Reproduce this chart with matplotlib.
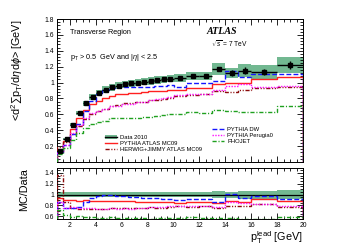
import numpy as np
import matplotlib
matplotlib.use("Agg")
import matplotlib.pyplot as plt
from matplotlib.ticker import MultipleLocator, FuncFormatter
from matplotlib.patches import Patch
from matplotlib.lines import Line2D

plt.rcParams['font.family'] = ['Liberation Sans', 'DejaVu Sans']
plt.rcParams['mathtext.fontset'] = 'custom'
plt.rcParams['mathtext.rm'] = 'Liberation Sans'
plt.rcParams['mathtext.it'] = 'Liberation Sans:italic'
plt.rcParams['mathtext.bf'] = 'Liberation Sans:bold'

# bin edges in leading-track pT [GeV]
edges = np.array([1.0, 1.5, 2.0, 2.5, 3.0, 3.5, 4.0, 4.5, 5.0, 5.5, 6.0, 6.5, 7.0,
                  7.5, 8.0, 8.5, 9.0, 9.5, 10.0, 11.0, 12.0, 13.0, 14.0, 15.0,
                  16.0, 18.0, 20.0])

data = np.array([0.14, 0.29, 0.47, 0.62, 0.74, 0.82, 0.87, 0.91, 0.94, 0.96, 0.98,
                 0.99, 1.00, 1.01, 1.02, 1.03, 1.04, 1.05, 1.06, 1.08, 1.08, 1.17,
                 1.12, 1.15, 1.13, 1.22])
data_stat = np.array([0.004, 0.004, 0.004, 0.004, 0.004, 0.004, 0.005, 0.005, 0.005,
                      0.006, 0.006, 0.007, 0.008, 0.008, 0.009, 0.010, 0.011, 0.012,
                      0.012, 0.015, 0.020, 0.030, 0.035, 0.040, 0.035, 0.050])
data_relsyst = np.array([0.045, 0.045, 0.045, 0.045, 0.045, 0.045, 0.045, 0.045, 0.045,
                         0.045, 0.045, 0.045, 0.045, 0.045, 0.045, 0.045, 0.045, 0.045,
                         0.045, 0.045, 0.045, 0.060, 0.055, 0.075, 0.075, 0.085])

mc09 = np.array([0.13, 0.26, 0.42, 0.55, 0.66, 0.73, 0.77, 0.80, 0.83, 0.85, 0.86,
                 0.87, 0.87, 0.88, 0.89, 0.89, 0.89, 0.90, 0.90, 0.93, 0.93, 0.98,
                 0.99, 0.99, 1.04, 1.07])
herwig = np.array([0.19, 0.25, 0.35, 0.45, 0.54, 0.60, 0.64, 0.67, 0.70, 0.72, 0.74,
                   0.74, 0.75, 0.76, 0.78, 0.78, 0.79, 0.81, 0.83, 0.84, 0.85, 0.89,
                   0.88, 0.90, 0.93, 0.94])
dw = np.array([0.12, 0.22, 0.35, 0.48, 0.64, 0.77, 0.85, 0.90, 0.93, 0.94, 0.95,
               0.95, 0.95, 0.95, 0.95, 0.96, 0.96, 0.97, 0.95, 1.00, 1.00, 1.02,
               1.14, 1.07, 1.11, 1.11])
perugia = np.array([0.12, 0.22, 0.36, 0.47, 0.56, 0.62, 0.64, 0.67, 0.70, 0.71, 0.73,
                    0.73, 0.75, 0.76, 0.78, 0.79, 0.80, 0.82, 0.84, 0.86, 0.86, 0.91,
                    0.96, 0.98, 0.94, 0.96])
phojet = np.array([0.10, 0.18, 0.28, 0.37, 0.43, 0.48, 0.50, 0.52, 0.55, 0.55, 0.56,
                   0.56, 0.56, 0.57, 0.57, 0.58, 0.59, 0.60, 0.60, 0.63, 0.62, 0.66,
                   0.64, 0.63, 0.63, 0.71])

labels = ["Data 2010", "PYTHIA ATLAS MC09", "HERWIG+JIMMY ATLAS MC09",
          "PYTHIA DW", "PYTHIA Perugia0", "PHOJET"]

band_col = '#4fa676'
models = [
    (mc09, '#ff2020', '-', labels[1]),
    (herwig, '#8b0a0a', (0, (3, 1.2, 0.8, 1.2, 0.8, 1.2)), labels[2]),
    (dw, '#1515ff', (0, (3.5, 1.6)), labels[3]),
    (perugia, '#ff10ff', (0, (1.0, 1.0)), labels[4]),
    (phojet, '#1fa01f', (0, (3, 1.3, 0.8, 1.3)), labels[5]),
]

W, H = 341, 245
fig = plt.figure(figsize=(W / 100, H / 100), dpi=100)
ax = fig.add_axes([57 / W, 1 - 162 / H, 246 / W, 143 / H])
rx = fig.add_axes([57 / W, 1 - 219 / H, 246 / W, 51 / H], sharex=ax)

centers = 0.5 * (edges[1:] + edges[:-1])
halfw = 0.5 * np.diff(edges)

# main panel
ax.bar(centers, 2 * data * data_relsyst, bottom=data * (1 - data_relsyst),
       width=np.diff(edges), color=band_col, alpha=0.8, lw=0, zorder=1)
for vals, col, ls, lab in models:
    ax.stairs(vals, edges, color=col, ls=ls, lw=1.0, zorder=3)
ax.errorbar(centers, data, xerr=halfw, yerr=data_stat, fmt='s', ms=3.0,
            color='k', lw=1.0, capsize=0, zorder=4)

# ratio panel
ones = data / data
rx.bar(centers, 2 * data_relsyst, bottom=1 - data_relsyst, width=np.diff(edges),
       color=band_col, alpha=0.8, lw=0, zorder=1)
rx.stairs(ones, edges, color='k', lw=0.9, zorder=2)
for vals, col, ls, lab in models:
    rx.stairs(vals / data, edges, color=col, ls=ls, lw=1.0, zorder=3)

fmt = FuncFormatter(lambda v, p: '%g' % round(v, 2))
for a in (ax, rx):
    a.set_xlim(1, 20)
    a.xaxis.set_major_locator(MultipleLocator(2))
    a.xaxis.set_minor_locator(MultipleLocator(0.5))
    a.tick_params(which='both', direction='in', top=True, right=True,
                  labelsize=4.9, width=0.6, pad=2)
    a.tick_params(which='major', length=4)
    a.tick_params(which='minor', length=2)
    a.yaxis.set_major_formatter(fmt)
    for s in a.spines.values():
        s.set_linewidth(0.7)

ax.set_ylim(0, 1.8)
ax.yaxis.set_major_locator(MultipleLocator(0.2))
ax.yaxis.set_minor_locator(MultipleLocator(0.04))
ax.set_yticks(np.arange(0.2, 1.81, 0.2))
ax.tick_params(labelbottom=False)

rx.set_ylim(0.55, 1.49)
rx.set_yticks([0.6, 0.8, 1.0, 1.2, 1.4])
rx.yaxis.set_minor_locator(MultipleLocator(0.05))
rx.xaxis.set_major_formatter(fmt)

ax.set_ylabel(r'<d$^2\sum$p$_\mathrm{T}$/d$\eta$d$\phi$> [GeV]', fontsize=7.8, loc='top')
ax.yaxis.set_label_coords(-0.13, 1.0)
rx.set_ylabel('MC/Data', fontsize=7.8, loc='top')
rx.yaxis.set_label_coords(-0.115, 1.0)
rx.set_xlabel(r'p$_\mathrm{T}^\mathrm{lead}$ [GeV]', fontsize=7.8, loc='right', labelpad=0)

ax.text(70, H - 32, 'Transverse Region', transform=None, fontsize=5.2, va='center')
ax.text(70, H - 57, r'p$_\mathrm{T}$ > 0.5  GeV and |$\eta$| < 2.5', transform=None,
        fontsize=5.2, va='center')
ax.text(207, H - 31, 'ATLAS', transform=None, fontsize=7.2, va='center',
        family='Liberation Serif', weight='bold', style='italic')
ax.text(211, H - 44, r'$\sqrt{s}$ = 7 TeV', transform=None, fontsize=4.8, va='center')

# legends
h_data = (Patch(facecolor=band_col, alpha=0.8), Line2D([], [], color='k', lw=1.0))
hs = [h_data] + [Line2D([], [], color=c, ls=l, lw=1.0) for _, c, l, _ in models]
leg_kw = dict(frameon=False, fontsize=4.2, handlelength=2.1, handletextpad=0.5,
              labelspacing=0.15, borderpad=0, borderaxespad=0, loc='upper left')
leg1 = ax.legend(hs[:3], labels[:3], bbox_to_anchor=(105 / W, 1 - 135 / H),
                 bbox_transform=fig.transFigure, **leg_kw)
ax.add_artist(leg1)
ax.legend(hs[3:], labels[3:], bbox_to_anchor=(212 / W, 1 - 127 / H),
          bbox_transform=fig.transFigure, **leg_kw)

fig.savefig('out.png', dpi=100)
